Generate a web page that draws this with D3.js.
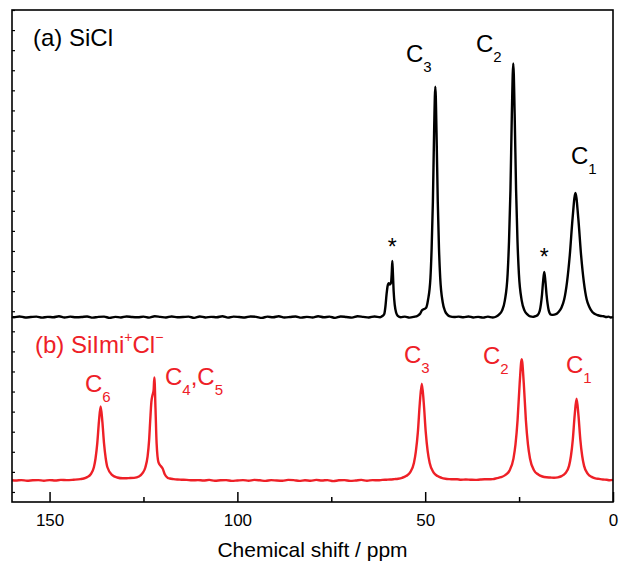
<!DOCTYPE html>
<html>
<head>
<meta charset="utf-8">
<script src="https://cdn.jsdelivr.net/npm/d3@7"></script>
<style>
  html, body { margin: 0; padding: 0; background: #fff; }
  svg { display: block; }
  text { font-family: "Liberation Sans", Arial, Helvetica, sans-serif; }
</style>
</head>
<body>
<svg id="chart" width="620" height="566"></svg>
<script>
// 13C CP-MAS NMR spectra: (a) SiCl and (b) SiImi+Cl-

// Axis ticks
const xTicksMajor = [150, 100, 50, 0];
const xTicksMinor = [125, 75, 25];
const yTicks = [0, 1, 2, 3, 4, 5, 6, 7, 8, 9, 10, 11, 12, 13, 14, 15, 16, 17, 18, 19, 20, 21, 22, 23, 24];

// Vertical stacking offsets (intensity units)
const offsetA = 8.71;
const offsetB = 0.57;

// Spectrum (a) SiCl: chemical shift (ppm) and intensity above its baseline
const shiftA = [
  0.0, 0.6, 1.2, 1.8, 2.5, 3.2, 4.0, 4.8, 5.5, 6.3, 7.0, 7.75, 8.5, 9.25, 10.0, 10.75, 11.5, 12.25, 13.0, 13.7,
  14.5, 15.2, 16.0, 16.5, 17.1, 17.4, 17.7, 18.0, 18.3, 18.6, 18.9, 19.2, 19.5, 20.1, 20.7, 21.3,
  22.05, 22.8, 23.55, 24.3, 25.05, 25.43, 25.8, 26.18, 26.55, 26.93, 27.3, 27.68, 28.05, 28.8, 29.55, 30.3, 31.05,
  32.0, 33.3, 34.6, 35.9, 37.2, 38.5, 39.8, 41.1, 42.3,
  43.4, 44.05, 44.7, 45.35, 46.0, 46.33, 46.65, 46.98, 47.3, 47.63, 47.95, 48.28, 48.6, 49.25, 49.8, 50.3, 50.8,
  51.3, 52.0, 53.0, 54.2, 55.4, 56.5,
  57.3, 57.7, 58.1, 58.4, 58.6, 58.75, 58.9, 59.1, 59.4, 59.7, 60.0, 60.3, 60.6, 60.9, 61.4, 62.0,
  63.5, 65.0, 66.5, 68.0, 69.5, 71.0, 72.5, 74.0, 75.5, 77.0, 78.5, 80.0, 81.5, 83.0, 84.5, 86.0, 87.5, 89.0,
  90.5, 92.0, 93.5, 95.0, 96.5, 98.0, 99.5, 101.0, 102.5, 104.0, 105.5, 107.0, 108.5, 110.0, 111.5, 113.0,
  114.5, 116.0, 117.5, 119.0, 120.5, 122.0, 123.5, 125.0, 126.5, 128.0, 129.5, 131.0, 132.5, 134.0, 135.5,
  137.0, 138.5, 140.0, 141.5, 143.0, 144.5, 146.0, 147.5, 149.0, 150.5, 152.0, 153.5, 155.0, 156.5, 158.0,
  159.5, 160.0
];
const intensityA = [
  0.01, -0.02, 0.02, 0.0, 0.04, 0.05, 0.09, 0.15, 0.25, 0.5, 0.87, 1.73, 3.09, 4.94, 6.18, 4.94, 3.09, 1.73, 0.87, 0.48,
  0.25, 0.14, 0.11, 0.12, 0.32, 0.64, 1.13, 1.79, 2.24, 1.79, 1.12, 0.63, 0.31, 0.09, 0.04, 0.01,
  0.03, 0.13, 0.32, 0.82, 2.15, 3.79, 6.32, 10.1, 12.63, 10.1, 6.32, 3.79, 2.15, 0.82, 0.32, 0.13, 0.03,
  -0.02, 0.02, -0.03, 0.01, -0.02, 0.03, -0.01, 0.02, 0.0,
  0.03, 0.11, 0.29, 0.75, 1.95, 3.44, 5.74, 9.18, 11.47, 9.18, 5.74, 3.44, 1.95, 0.85, 0.45, 0.4, 0.35,
  0.18, 0.07, 0.01, -0.03, 0.02, -0.01,
  0.06, 0.2, 0.6, 1.3, 2.2, 2.79, 2.2, 1.7, 1.62, 1.68, 1.55, 1.1, 0.5, 0.15, 0.05, -0.01,
  0.03, -0.02, 0.01, 0.04, -0.03, 0.0, 0.03, -0.04, 0.02, -0.01, 0.04, -0.02, 0.01, -0.03, 0.03, 0.0, -0.02, 0.04,
  -0.01, 0.02, -0.04, 0.01, 0.03, -0.02, 0.0, 0.02, -0.03, 0.04, -0.01, 0.01, -0.02, 0.03, -0.04, 0.02,
  0.0, -0.01, 0.03, -0.02, 0.01, 0.04, -0.03, 0.02, -0.01, 0.0, 0.03, -0.02, 0.01, -0.04, 0.02,
  0.01, -0.03, 0.03, 0.0, -0.01, 0.02, -0.02, 0.04, -0.01, 0.01, -0.03, 0.02, 0.0, -0.02, 0.03,
  -0.01, 0.01
];

// Spectrum (b) SiImi+Cl-
const shiftB = [
  0.0, 0.9, 1.7, 2.7, 3.7, 4.7, 5.7, 6.7, 7.7, 8.2, 8.7, 9.2, 9.7, 10.2, 10.7, 11.2, 11.7, 12.7, 13.7, 14.7,
  15.7, 16.7, 17.7, 18.8, 19.9, 21.0, 22.1, 22.65, 23.2, 23.75, 24.3, 24.85, 25.4, 25.95, 26.5, 27.6, 28.7,
  29.8, 30.9, 32.0, 33.1, 34.2, 35.3, 36.6, 38.0, 39.2, 40.5, 41.5, 42.5, 43.6, 44.6, 45.65, 46.7, 47.75,
  48.8, 49.33, 49.85, 50.38, 50.9, 51.43, 51.95, 52.48, 53.0, 54.05, 55.1, 56.15, 57.2, 58.2, 59.3, 60.3,
  61.4, 62.5,
  64.0, 65.5, 67.0, 68.5, 70.0, 71.5, 73.0, 74.5, 76.0, 77.5, 79.0, 80.5, 82.0, 83.5, 85.0, 86.5, 88.0,
  89.5, 91.0, 92.5, 94.0, 95.5, 97.0, 98.5, 100.0, 101.5, 103.0, 104.5, 106.0, 107.5, 109.0, 110.5, 112.0,
  113.5,
  115.0, 116.0, 117.0, 118.0, 118.5, 119.3, 119.9, 120.4, 121.0, 121.5, 121.8, 122.1, 122.3, 122.6, 122.9,
  123.2, 123.5, 123.9, 124.5, 125.2, 126.2, 127.5, 129.0, 130.5, 132.0, 133.3, 134.6, 135.05, 135.5, 135.95,
  136.4, 136.85, 137.3, 137.75, 138.2, 139.1, 140.0, 140.9, 141.8, 143.6, 145.4, 147.0, 148.5, 150.0, 151.5,
  153.0, 154.5, 156.0, 157.5, 159.0, 160.0
];
const intensityB = [
  0.03, 0.01, 0.04, 0.05, 0.08, 0.11, 0.18, 0.33, 0.73, 1.22, 2.04, 3.26, 4.07, 3.26, 2.04, 1.22, 0.73, 0.36, 0.22, 0.16,
  0.14, 0.15, 0.16, 0.2, 0.3, 0.5, 1.1, 1.81, 3.02, 4.83, 6.04, 4.83, 3.02, 1.81, 1.09, 0.48, 0.27,
  0.17, 0.12, 0.07, 0.06, 0.06, 0.05, 0.03, 0.04, 0.05, 0.04, 0.06, 0.06, 0.07, 0.09, 0.135, 0.22, 0.39,
  0.87, 1.45, 2.41, 3.86, 4.82, 3.86, 2.41, 1.45, 0.87, 0.39, 0.22, 0.135, 0.09, 0.07, 0.05, 0.04,
  0.03, 0.01,
  0.02, -0.01, 0.03, 0.0, -0.02, 0.02, 0.01, -0.03, 0.02, 0.0, 0.03, -0.01, 0.01, -0.02, 0.02, 0.03, -0.01,
  0.0, 0.02, -0.02, 0.01, 0.03, -0.01, 0.02, 0.0, -0.02, 0.02, 0.01, -0.01, 0.03, 0.0, 0.02, 0.01,
  0.03,
  0.04, 0.05, 0.07, 0.1, 0.13, 0.3, 0.6, 0.72, 0.9, 1.85, 3.6, 5.13, 4.5, 4.25, 3.9,
  3.0, 2.0, 1.2, 0.65, 0.38, 0.2, 0.13, 0.12, 0.11, 0.15, 0.27, 0.66, 1.11, 1.85, 2.95,
  3.69, 2.95, 1.85, 1.11, 0.66, 0.3, 0.17, 0.1, 0.07, 0.04, 0.02, 0.03, 0.0, 0.02, -0.01,
  0.02, 0.01, -0.01, 0.02, 0.0, 0.01
];

// Plot geometry
const svg = d3.select("#chart");
const W = 620, H = 566;
const mLeft = 12, mRight = 613, mTop = 10, mBottom = 502;

svg.append("rect").attr("width", W).attr("height", H).attr("fill", "#fff");

const x = d3.scaleLinear().domain([160, 0]).range([mLeft, mRight]);
const y = d3.scaleLinear().domain([-0.5, 24]).range([mBottom, mTop]);

// Spectra
const line = d3.line()
  .x(d => x(d[0]))
  .y(d => y(d[1]))
  .curve(d3.curveMonotoneX);

const traceA = d3.zip(shiftA, intensityA).map(([p, v]) => [p, v + offsetA]).reverse();
const traceB = d3.zip(shiftB, intensityB).map(([p, v]) => [p, v + offsetB]).reverse();

const black = "#000", red = "#ee2027";

const plot = svg.append("g");
plot.append("path").datum(traceB)
  .attr("d", line).attr("fill", "none")
  .attr("stroke", red).attr("stroke-width", 2.4).attr("stroke-linejoin", "round");
plot.append("path").datum(traceA)
  .attr("d", line).attr("fill", "none")
  .attr("stroke", black).attr("stroke-width", 2.4).attr("stroke-linejoin", "round");

// Bottom axis: major and minor ticks pointing inward
const xAxis = d3.axisBottom(x).tickValues(xTicksMajor).tickSize(-10).tickPadding(12).tickFormat(d3.format("d"));
const gx = svg.append("g").attr("transform", `translate(0,${mBottom})`).call(xAxis);
gx.select(".domain").remove();
gx.selectAll(".tick line").attr("stroke", "#000").attr("stroke-width", 1.5);
gx.selectAll(".tick text").attr("font-size", 17).attr("fill", "#000")
  .attr("font-family", "'Liberation Sans', Arial, sans-serif");

const xMinor = d3.axisBottom(x).tickValues(xTicksMinor).tickSize(-5).tickFormat("");
const gxm = svg.append("g").attr("transform", `translate(0,${mBottom})`).call(xMinor);
gxm.select(".domain").remove();
gxm.selectAll(".tick line").attr("stroke", "#000").attr("stroke-width", 1.5);

// Left axis: unlabeled intensity ticks
const yAxis = d3.axisLeft(y).tickValues(yTicks).tickSize(-3).tickFormat("");
const gy = svg.append("g").attr("transform", `translate(${mLeft},0)`).call(yAxis);
gy.select(".domain").remove();
gy.selectAll(".tick line").attr("stroke", "#000").attr("stroke-width", 1.2);

// Frame
svg.append("rect")
  .attr("x", mLeft).attr("y", mTop)
  .attr("width", mRight - mLeft).attr("height", mBottom - mTop)
  .attr("fill", "none").attr("stroke", "#000").attr("stroke-width", 1.6);

// Axis title
svg.append("text")
  .attr("x", (mLeft + mRight) / 2).attr("y", 557)
  .attr("text-anchor", "middle").attr("font-size", 21).attr("fill", "#000")
  .text("Chemical shift / ppm");

// Text with sub/superscript parts: each part is [text, kind]
function richText(px, py, parts, color, size) {
  const t = svg.append("text").attr("x", px).attr("y", py)
    .attr("font-size", size).attr("fill", color);
  let shift = 0;
  parts.forEach(([s, kind]) => {
    let target = 0, fs = size;
    if (kind === "sub") { target = 10; fs = 15; }
    if (kind === "sup") { target = -11; fs = 14; }
    t.append("tspan").attr("dy", target - shift).attr("font-size", fs).text(s);
    shift = target;
  });
  return t;
}

// Panel titles
richText(33, 46, [["(a) SiCl", ""]], black, 24);
richText(35, 353, [["(b) SiImi", ""], ["+", "sup"], ["Cl", ""], ["\u2212", "sup"]], red, 24);

// Peak assignments (a)
richText(406, 62, [["C", ""], ["3", "sub"]], black, 24);
richText(476, 52, [["C", ""], ["2", "sub"]], black, 24);
richText(571, 164, [["C", ""], ["1", "sub"]], black, 24);

// Spinning sidebands
svg.append("text").attr("x", x(58.75)).attr("y", 255).attr("text-anchor", "middle")
  .attr("font-size", 23).attr("fill", black).text("*");
svg.append("text").attr("x", x(18.3)).attr("y", 265).attr("text-anchor", "middle")
  .attr("font-size", 23).attr("fill", black).text("*");

// Peak assignments (b)
richText(85, 392, [["C", ""], ["6", "sub"]], red, 24);
richText(165, 385, [["C", ""], ["4", "sub"], [",", ""], ["C", ""], ["5", "sub"]], red, 24);
richText(404, 363, [["C", ""], ["3", "sub"]], red, 24);
richText(483, 364, [["C", ""], ["2", "sub"]], red, 24);
richText(566, 373, [["C", ""], ["1", "sub"]], red, 24);
</script>
</body>
</html>
